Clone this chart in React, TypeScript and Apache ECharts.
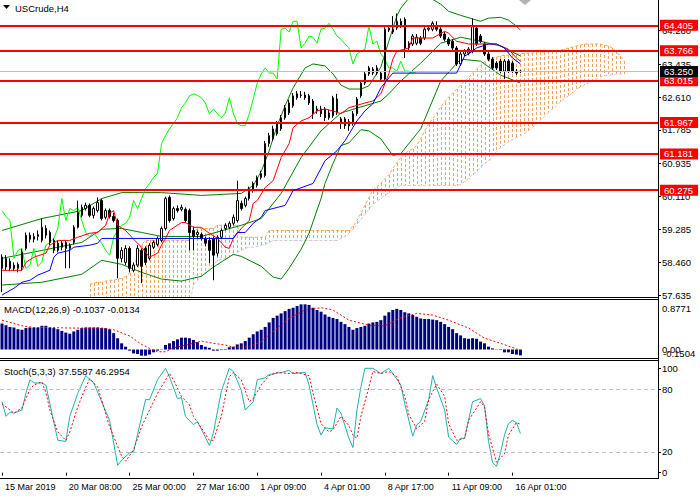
import React, { useEffect, useRef } from 'react';
import * as echarts from 'echarts';

const FONT = "'Liberation Sans', Arial, sans-serif";
const SLOTS = 165;

const openP = [
  58.59, 58.34, 58.49, 58.39, 58.31, 58.34, 58.81, 59.14, 59.04, 59.11,
  59.01, 59.31, 59.21, 59.01, 58.76, 58.94, 58.96, 58.81, 58.96, 59.34,
  59.64, 59.81, 59.89, 59.64, 59.76, 60.01, 59.59, 59.76, 59.61, 59.51,
  58.56, 58.46, 58.81, 58.26, 58.39, 58.76, 58.81, 58.56, 58.84, 58.91,
  59.01, 59.31, 60.09, 59.56, 59.81, 59.79, 59.79, 59.76, 59.26, 59.16,
  59.16, 59.06, 59.01, 59.06, 58.69, 59.09, 59.31, 59.34, 59.44, 59.51,
  59.94, 59.89, 60.06, 60.26, 60.39, 60.59, 60.64, 61.44, 61.56, 61.69,
  61.81, 62.09, 62.21, 62.39, 62.59, 62.66, 62.66, 62.64, 62.51, 62.26,
  62.31, 62.31, 62.09, 62.14, 62.56, 62.06, 62.06, 61.99, 61.94, 62.19,
  62.64, 62.96, 63.19, 63.31, 63.34, 63.21, 63.06, 64.29, 64.31, 64.34,
  64.39, 64.56, 63.84, 63.94, 63.96, 64.09, 64.09, 64.31, 64.31, 64.39,
  64.31, 64.19, 64.06, 64.01, 63.84, 63.44, 63.69, 63.71, 63.76, 64.34,
  64.14, 63.94, 63.69, 63.56, 63.46, 63.51, 63.26, 63.51, 63.46, 63.26,
  63.26,
];
const closeP = [
  58.31, 58.56, 58.31, 58.31, 58.41, 58.71, 59.14, 59.04, 59.11, 59.16,
  59.34, 59.14, 58.96, 58.76, 58.94, 58.84, 58.81, 58.89, 59.34, 59.71,
  59.84, 59.89, 59.64, 59.81, 59.96, 59.56, 59.76, 59.61, 59.51, 58.56,
  58.76, 58.81, 58.31, 58.39, 58.81, 58.36, 58.46, 58.89, 58.96, 59.06,
  59.31, 60.06, 59.51, 59.81, 59.76, 59.84, 59.51, 59.21, 59.11, 59.21,
  59.06, 58.94, 58.76, 58.64, 59.09, 59.26, 59.39, 59.44, 59.59, 60.01,
  59.81, 60.06, 60.31, 60.44, 60.59, 60.69, 61.44, 61.64, 61.81, 61.94,
  62.09, 62.34, 62.46, 62.64, 62.69, 62.65, 62.59, 62.46, 62.19, 62.31,
  62.19, 62.09, 62.21, 62.59, 62.21, 61.94, 61.89, 61.89, 62.19, 62.56,
  62.96, 63.19, 63.34, 63.21, 63.21, 63.06, 64.31, 64.34, 64.24, 64.51,
  64.51, 63.84, 63.96, 64.14, 64.11, 63.96, 64.31, 64.34, 64.46, 64.31,
  64.14, 64.06, 63.94, 63.84, 63.44, 63.69, 63.76, 63.81, 64.39, 63.94,
  64.01, 63.69, 63.56, 63.34, 63.34, 63.26, 63.51, 63.26, 63.26, 63.21,
  63.25,
];
const lowP = [
  57.71, 58.26, 58.24, 58.24, 58.21, 58.26, 58.76, 58.96, 58.96, 59.01,
  58.96, 59.06, 58.89, 58.69, 58.71, 58.76, 58.31, 58.31, 58.91, 59.31,
  59.59, 59.76, 59.59, 59.56, 59.71, 59.51, 59.54, 59.56, 59.46, 58.06,
  58.46, 58.39, 58.21, 58.21, 58.34, 57.94, 58.39, 58.51, 58.79, 58.86,
  58.96, 59.26, 59.46, 59.51, 59.71, 59.74, 59.46, 58.76, 58.76, 59.06,
  59.01, 58.86, 58.44, 58.01, 58.61, 59.04, 59.26, 59.29, 59.39, 59.46,
  59.76, 59.84, 60.01, 60.21, 60.34, 60.54, 60.59, 61.36, 61.51, 61.64,
  61.76, 62.04, 62.16, 62.34, 62.54, 62.59, 62.54, 62.41, 62.06, 62.19,
  62.11, 62.01, 62.04, 62.09, 62.16, 61.81, 61.81, 61.76, 61.89, 62.14,
  62.59, 62.91, 63.14, 63.16, 63.16, 63.01, 63.01, 64.24, 64.19, 64.29,
  64.34, 63.59, 63.76, 63.89, 63.91, 63.91, 64.04, 64.26, 64.26, 64.26,
  64.09, 64.01, 63.89, 63.76, 63.39, 63.39, 63.64, 63.66, 63.71, 63.89,
  63.96, 63.64, 63.51, 63.29, 63.29, 63.21, 63.06, 63.21, 63.21, 63.16,
  63.21,
];
const highP = [
  58.66, 58.64, 58.56, 58.46, 58.46, 58.79, 59.21, 59.21, 59.19, 59.26,
  59.56, 59.39, 59.26, 59.06, 59.01, 59.01, 59.01, 58.94, 59.39, 60.01,
  59.91, 59.96, 59.94, 59.86, 60.09, 60.06, 59.81, 59.81, 59.71, 59.56,
  58.84, 58.89, 58.86, 58.46, 58.89, 58.81, 58.86, 58.94, 59.01, 59.11,
  59.36, 60.11, 60.14, 59.86, 59.89, 59.91, 59.84, 59.81, 59.36, 59.26,
  59.21, 59.11, 59.09, 59.11, 59.14, 59.31, 59.44, 59.49, 59.66, 60.51,
  60.01, 60.11, 60.36, 60.49, 60.64, 60.76, 61.51, 61.71, 61.89, 62.01,
  62.16, 62.41, 62.54, 62.71, 62.76, 62.76, 62.74, 62.69, 62.56, 62.39,
  62.39, 62.36, 62.29, 62.64, 62.69, 62.11, 62.11, 62.06, 62.26, 62.61,
  63.01, 63.24, 63.39, 63.36, 63.41, 63.26, 64.36, 64.39, 64.64, 64.71,
  64.58, 64.61, 64.01, 64.19, 64.19, 64.14, 64.36, 64.39, 64.51, 64.51,
  64.36, 64.24, 64.11, 64.06, 63.89, 63.74, 63.81, 63.86, 64.58, 64.39,
  64.19, 63.99, 63.74, 63.61, 63.51, 63.56, 63.56, 63.56, 63.51, 63.31,
  63.29,
];

const tenkan = [
  [0, 58.26], [5, 58.26], [6, 58.46], [8, 58.59], [11, 58.69], [12, 58.89], [14, 59.01], [17, 59.01],
  [19, 59.09], [22, 59.19], [24, 59.21], [26, 59.39], [27, 59.69], [28, 59.76], [29, 59.39], [31, 59.26],
  [33, 59.04], [35, 58.84], [37, 58.59], [39, 58.69], [40, 58.89], [41, 59.06], [42, 59.26], [45, 59.46],
  [46, 59.46], [48, 59.34], [50, 59.34], [51, 59.26], [52, 59.19], [54, 59.06], [56, 58.84], [57, 58.81],
  [58, 59.06], [60, 59.31], [62, 59.51], [63, 59.94], [64, 60.01], [66, 60.34], [68, 60.51], [70, 61.09],
  [72, 61.44], [73, 61.84], [75, 62.01], [77, 62.09], [79, 62.26], [81, 62.31], [83, 62.26], [85, 62.19],
  [87, 62.34], [91, 62.46], [93, 62.51], [95, 62.69], [97, 63.19], [98, 63.56], [99, 63.76], [102, 63.84],
  [103, 64.09], [108, 64.09], [111, 64.26], [112, 64.21], [114, 64.01], [117, 63.94], [124, 63.94],
  [127, 63.81], [129, 63.59], [130, 63.51],
];
const kijun = [
  [0, 57.64], [3, 57.81], [5, 57.96], [7, 58.01], [9, 58.14], [12, 58.26], [13, 58.59], [14, 58.69],
  [17, 58.76], [18, 58.84], [22, 58.89], [24, 58.94], [25, 59.06], [58, 59.06], [59, 59.21], [61, 59.21],
  [63, 59.44], [65, 59.59], [66, 59.76], [71, 59.89], [73, 60.26], [78, 60.44], [81, 61.01], [84, 61.26],
  [86, 61.51], [89, 62.01], [91, 62.26], [93, 62.44], [95, 62.84], [97, 63.09], [98, 63.21], [114, 63.21],
  [116, 63.64], [117, 63.69], [119, 63.84], [122, 63.94], [124, 63.94], [126, 63.84], [128, 63.59], [130, 63.44],
];
const bbUpper = [
  [0, 59.26], [10, 59.56], [20, 59.76], [25, 60.06], [30, 60.21], [40, 60.21], [50, 60.14], [60, 60.19],
  [63, 60.39], [65, 60.74], [67, 61.26], [69, 61.89], [71, 62.39], [73, 62.84], [76, 63.34], [78, 63.44],
  [81, 63.39], [83, 63.19], [85, 62.91], [87, 62.81], [90, 62.81], [92, 62.89], [95, 63.36], [97, 64.01],
  [99, 64.64], [100, 64.84], [102, 65.09], [105, 65.14], [108, 65.06], [110, 64.94], [112, 64.76],
  [115, 64.66], [120, 64.51], [122, 64.59], [125, 64.61], [127, 64.54], [129, 64.39], [130, 64.29],
];
const bbMiddle = [
  [0, 58.56], [10, 58.76], [20, 58.96], [25, 59.29], [30, 59.31], [35, 59.21], [40, 59.11], [50, 59.11],
  [60, 59.39], [65, 59.56], [70, 60.19], [75, 61.09], [80, 61.76], [85, 62.21], [90, 62.36], [95, 62.51],
  [97, 62.69], [100, 63.01], [105, 63.46], [110, 63.96], [115, 64.11], [120, 64.01], [125, 63.89], [130, 63.64],
];
const bbLower = [
  [0, 57.89], [10, 57.96], [20, 58.16], [25, 58.51], [30, 58.41], [35, 58.21], [40, 58.04], [45, 57.99],
  [50, 58.11], [53, 58.34], [58, 58.66], [60, 58.61], [65, 58.36], [68, 58.09], [70, 58.04], [72, 58.31],
  [75, 58.79], [77, 59.19], [80, 60.06], [81, 60.44], [83, 60.94], [85, 61.39], [87, 61.46], [90, 61.79],
  [92, 61.76], [95, 61.56], [98, 61.14], [100, 61.19], [105, 61.81], [110, 63.01], [115, 63.56], [120, 63.51],
  [125, 63.16], [130, 62.96],
];

const CLOUD_START = 22;
const senkouA = [
  57.91, 57.94, 57.96, 57.96, 57.99, 58.01, 58.01, 58.04, 58.06, 58.11, 58.19, 58.31, 58.64, 58.91,
  59.01, 59.01, 59.01, 59.01, 59.01, 59.01, 59.01, 59.01, 59.01, 59.01, 59.01, 59.01,
  59.21,
  59.31, 59.31, 59.31, 59.31, 59.31,
  59.39, 59.39, 59.39, 59.39, 59.39, 59.39,
  59.09, 59.09, 59.09, 59.09, 59.09, 59.09, 59.09,
  59.26, 59.26, 59.26, 59.26, 59.26, 59.26, 59.26, 59.26, 59.26, 59.26, 59.26,
  59.26, 59.26, 59.26, 59.26, 59.26, 59.26, 59.26, 59.26, 59.26, 59.26,
  59.36, 59.51, 59.69, 59.89, 60.09, 60.26, 60.36, 60.44, 60.56, 60.66, 60.81, 60.96,
  61.09, 61.19, 61.26, 61.31, 61.39, 61.56, 61.76, 61.94, 62.06, 62.21, 62.36, 62.49,
  62.61, 62.71, 62.81, 62.91, 63.01, 63.09, 63.21, 63.31, 63.41, 63.49, 63.56, 63.59,
  63.61, 63.64, 63.66, 63.66, 63.69, 63.69, 63.69, 63.71, 63.71, 63.71, 63.74, 63.74,
  63.74, 63.76, 63.76, 63.76, 63.79, 63.81, 63.84, 63.86, 63.89, 63.91, 63.94, 63.94,
  63.94, 63.94, 63.94, 63.91, 63.89, 63.84, 63.76, 63.64, 63.51,
];
const senkouB = [
  57.40, 57.40, 57.40, 57.40, 57.40, 57.40, 57.40, 57.40, 57.40, 57.40, 57.40, 57.40, 57.40,
  57.40, 57.40, 57.40, 57.40, 57.40, 57.40, 57.40, 57.40, 57.40, 57.40, 57.40, 57.40, 57.40,
  57.89, 58.01, 58.11, 58.21, 58.31, 58.41, 58.49, 58.54, 58.56, 58.59, 58.64, 58.71, 58.76,
  58.81, 58.84, 58.84, 58.86, 58.89, 58.91, 58.96,
  59.01, 59.01, 59.01, 59.01, 59.01, 59.01, 59.01, 59.01, 59.01, 59.01, 59.01, 59.01, 59.01,
  59.01, 59.01, 59.01, 59.01,
  59.06, 59.11, 59.19, 59.29, 59.41, 59.54, 59.66, 59.79, 59.89, 59.99, 60.06, 60.14, 60.21,
  60.29, 60.34,
  60.39, 60.39, 60.39, 60.39, 60.39, 60.39, 60.39, 60.39, 60.39, 60.39, 60.39, 60.39, 60.39,
  60.39, 60.39,
  60.41, 60.49, 60.56, 60.66, 60.74, 60.84, 60.94, 61.01, 61.11, 61.24, 61.34, 61.41, 61.49,
  61.54, 61.59, 61.64, 61.69, 61.76, 61.84, 61.94, 62.04, 62.11, 62.21, 62.31, 62.39, 62.49,
  62.56, 62.64, 62.71, 62.79, 62.86, 62.91, 62.96, 63.01, 63.06, 63.11, 63.14, 63.16, 63.16,
  63.19, 63.19, 63.19,
];

const macdHist = [
  0.46, 0.43, 0.40, 0.39, 0.36, 0.35, 0.38, 0.39, 0.39, 0.39,
  0.42, 0.42, 0.39, 0.38, 0.36, 0.33, 0.30, 0.28, 0.32, 0.35,
  0.38, 0.39, 0.39, 0.39, 0.39, 0.38, 0.38, 0.36, 0.29, 0.20,
  0.11, 0.05, -0.02, -0.07, -0.08, -0.11, -0.11, -0.09, -0.05, -0.02,
  -0.005, 0.08, 0.11, 0.15, 0.18, 0.21, 0.21, 0.20, 0.17, 0.13,
  0.08, 0.05, 0.03, -0.02, -0.02, -0.01, 0.01, 0.04, 0.05, 0.09,
  0.11, 0.15, 0.21, 0.27, 0.32, 0.35, 0.40, 0.48, 0.56, 0.60,
  0.64, 0.68, 0.72, 0.74, 0.77, 0.80, 0.80, 0.79, 0.74, 0.70,
  0.67, 0.62, 0.58, 0.56, 0.54, 0.49, 0.45, 0.40, 0.35, 0.38,
  0.40, 0.42, 0.46, 0.48, 0.49, 0.52, 0.60, 0.66, 0.70, 0.72,
  0.70, 0.66, 0.64, 0.61, 0.58, 0.55, 0.54, 0.54, 0.53, 0.52,
  0.49, 0.45, 0.40, 0.36, 0.29, 0.25, 0.20, 0.19, 0.20, 0.19,
  0.14, 0.11, 0.05, 0.02, 0.005, -0.01, -0.05, -0.05, -0.08, -0.09,
  -0.1037,
];
const macdSignal = [
  [0, 0.52], [5, 0.42], [8, 0.39], [12, 0.39], [17, 0.38], [21, 0.38], [25, 0.38], [28, 0.35],
  [32, 0.24], [35, 0.09], [37, 0.02], [39, -0.04], [41, -0.04], [43, 0.03], [47, 0.09], [50, 0.15],
  [53, 0.11], [56, 0.08], [58, 0.04], [62, 0.05], [65, 0.14], [68, 0.32], [72, 0.55], [76, 0.70],
  [80, 0.74], [83, 0.70], [87, 0.52], [92, 0.43], [96, 0.42], [100, 0.56], [104, 0.64], [108, 0.61],
  [112, 0.52], [117, 0.38], [121, 0.20], [125, 0.11], [129, 0.01], [130, -0.0134],
];
const stochK = [
  [0, 68], [1, 54], [2, 58], [3, 57], [5, 60], [6, 76], [7, 89], [8, 86], [10, 86], [11, 84], [12, 66],
  [14, 31], [16, 30], [17, 54], [19, 76], [21, 93], [23, 86], [27, 50], [29, 7], [30, 12], [32, 19],
  [33, 20], [36, 70], [37, 70], [39, 89], [41, 100], [42, 92], [44, 71], [45, 72], [46, 54], [48, 46],
  [49, 49], [51, 34], [52, 26], [53, 38], [55, 78], [57, 100], [58, 97], [60, 79], [61, 60], [63, 68],
  [64, 89], [66, 91], [67, 94], [70, 96], [72, 98], [73, 95], [76, 96], [77, 84], [79, 46], [80, 36],
  [81, 43], [83, 42], [84, 62], [85, 57], [87, 33], [88, 24], [89, 60], [90, 82], [91, 100], [93, 100],
  [95, 95], [97, 100], [98, 95], [100, 84], [101, 66], [103, 35], [104, 46], [105, 49], [107, 70],
  [108, 93], [109, 81], [111, 60], [112, 34], [114, 27], [115, 33], [116, 33], [118, 68], [120, 71],
  [121, 64], [122, 30], [123, 10], [124, 6], [125, 19], [126, 36], [127, 47], [128, 50], [129, 48],
  [130, 37.56],
];
const stochD = [
  [0, 66], [2, 60], [3, 57], [5, 62], [7, 80], [8, 84], [10, 87], [11, 77], [12, 60], [14, 39], [16, 31],
  [17, 39], [19, 63], [21, 82], [22, 90], [24, 82], [27, 44], [30, 16], [31, 11], [33, 22], [35, 44],
  [37, 60], [39, 76], [42, 95], [43, 89], [45, 73], [47, 65], [48, 54], [50, 43], [52, 31], [53, 31],
  [55, 54], [57, 92], [58, 96], [60, 89], [62, 68], [63, 71], [65, 84], [67, 93], [69, 96], [72, 95],
  [74, 96], [77, 93], [78, 76], [80, 47], [82, 39], [83, 41], [85, 54], [87, 45], [88, 36], [89, 33],
  [90, 54], [92, 82], [93, 97], [95, 95], [97, 97], [99, 92], [101, 73], [102, 56], [104, 42], [106, 49],
  [107, 70], [109, 85], [111, 73], [112, 47], [114, 31], [116, 33], [117, 50], [120, 68], [121, 63],
  [122, 37], [124, 10], [126, 18], [127, 36], [129, 48], [130, 46.3],
];

const levels = [64.405, 63.766, 63.015, 61.967, 61.181, 60.275];
const lastPrice = 63.25;
const priceTicks = [57.635, 58.46, 59.285, 60.11, 60.935, 61.785, 62.61, 63.435, 64.28];
const macdTicks = [0, 0.8771];
const stochTicks = [0, 20, 80, 100];
const dateLabels: Record<number, string> = {
  0: '15 Mar 2019', 16: '20 Mar 08:00', 32: '25 Mar 00:00', 48: '27 Mar 16:00', 64: '1 Apr 09:00',
  80: '4 Apr 01:00', 96: '8 Apr 17:00', 112: '11 Apr 09:00', 128: '16 Apr 01:00',
};

const CLOUD_COLOR = '#f4a460';

export default function App() {
  const ref = useRef<HTMLDivElement>(null);
  useEffect(() => {
    const chart = echarts.init(ref.current as HTMLDivElement, null, { renderer: 'svg' });
    const cats = Array.from({ length: SLOTS }, (_, i) => String(i));
    const candles = openP.map((o, i) => [o, closeP[i], lowP[i], highP[i]]);
    const chikou = closeP.slice(26).map((v, i) => [i, v]);
    const cloud = senkouA.map((a, i) => [CLOUD_START + i, a, senkouB[i]]);
    const spanA = senkouA.map((a, i) => [CLOUD_START + i, a]);
    const spanB = senkouB.map((b, i) => [CLOUD_START + i, b]);
    const txt = { fontFamily: FONT, fontSize: 9.5, color: '#000' };
    const mkLine = (data: any, color: string, xi: number, width = 1, type: any = 'solid', z = 3) => ({
      type: 'line', data, xAxisIndex: xi, yAxisIndex: xi, symbol: 'none', showSymbol: false,
      silent: true, lineStyle: { color, width, type }, itemStyle: { color }, z,
    });
    const lvlLabel = (bg: string) => ({
      show: true, position: 'end', distance: 2, backgroundColor: bg, color: '#fff',
      padding: [1, 5, 0, 4], fontFamily: FONT, fontSize: 9.5,
    });
    const hLine = (x1: number, y: number, x2: number) => ({
      type: 'line', shape: { x1, y1: y, x2, y2: y }, style: { stroke: '#000', lineWidth: 1 }, z: 100, silent: true,
    });
    const isLbl = (i: number) => dateLabels[i] !== undefined;

    chart.setOption({
      animation: false,
      backgroundColor: '#fff',
      grid: [
        { left: -2, top: 0, width: 660, height: 297 },
        { left: -2, top: 300, width: 660, height: 58 },
        { left: -2, top: 361, width: 660, height: 117 },
      ],
      xAxis: [0, 1, 2].map((g) => ({
        type: 'category', gridIndex: g, data: cats, boundaryGap: true,
        axisLine: { show: false },
        axisPointer: { show: false },
        axisTick: g === 2
          ? { show: true, alignWithLabel: true, interval: (i: number) => isLbl(i), length: 3, lineStyle: { color: '#000' } }
          : { show: false },
        axisLabel: g === 2
          ? {
            show: true, interval: (i: number) => isLbl(i), formatter: (_v: string, i: number) => dateLabels[i] || '',
            align: 'left', padding: [0, 0, 0, 3], margin: 4, fontFamily: FONT, fontSize: 9, color: '#000',
          }
          : { show: false },
        splitLine: { show: false },
        splitArea: { show: false },
      })),
      yAxis: [
        {
          type: 'value', gridIndex: 0, position: 'right', min: 57.59, max: 65.045,
          axisLine: { show: false }, splitLine: { show: false },
          axisTick: { show: true, customValues: priceTicks, length: 3, lineStyle: { color: '#000' } },
          axisLabel: { customValues: priceTicks, formatter: (v: number) => v.toFixed(3), margin: 4, ...txt },
        },
        {
          type: 'value', gridIndex: 1, position: 'right', min: -0.1504, max: 0.8771,
          axisLine: { show: false }, splitLine: { show: false },
          axisTick: { show: false },
          axisLabel: {
            customValues: macdTicks, margin: 4, showMinLabel: true, showMaxLabel: true, hideOverlap: false, ...txt,
            formatter: (v: number) => (v > 0.5 ? '{t|0.8771}' : '0.00'),
            rich: {
              t: { padding: [16, 0, 0, 0], fontFamily: FONT, fontSize: 9.5, color: '#000' },
            },
          },
        },
        {
          type: 'value', gridIndex: 2, position: 'right', min: -5.1, max: 107,
          axisLine: { show: false }, splitLine: { show: false },
          axisTick: { show: true, customValues: stochTicks, length: 3, lineStyle: { color: '#000' } },
          axisLabel: { customValues: stochTicks, formatter: (v: number) => String(v), margin: 4, ...txt },
        },
      ],
      series: [
        {
          type: 'custom', xAxisIndex: 0, yAxisIndex: 0, data: cloud, silent: true, z: 1,
          color: CLOUD_COLOR, itemStyle: { color: CLOUD_COLOR, opacity: 1 },
          encode: { x: 0, y: [1, 2] },
          renderItem: (params: any, api: any) => {
            const x = api.value(0);
            const p1 = api.coord([x, api.value(1)]);
            const p2 = api.coord([x, api.value(2)]);
            const cs = params.coordSys;
            const top = cs.y;
            const bot = cs.y + cs.height;
            const ya = Math.max(top, Math.min(bot, Math.min(p1[1], p2[1])));
            const yb = Math.max(top, Math.min(bot, Math.max(p1[1], p2[1])));
            const xx = Math.round(p1[0]);
            const children: any[] = [];
            for (let y = Math.round(ya); y < yb; y += 5) {
              children.push({
                type: 'rect', shape: { x: xx, y, width: 1, height: Math.min(3, yb - y) },
                style: { fill: CLOUD_COLOR, opacity: 1 },
              });
            }
            return { type: 'group', children };
          },
        },
        mkLine(spanA, CLOUD_COLOR, 0, 1, [3, 2], 2),
        mkLine(spanB, '#d8bfd8', 0, 1, [3, 2], 2),
        mkLine(bbUpper, '#008000', 0),
        mkLine(bbMiddle, '#008000', 0),
        mkLine(bbLower, '#008000', 0),
        mkLine(chikou, '#00ff00', 0),
        {
          type: 'candlestick', xAxisIndex: 0, yAxisIndex: 0, data: candles, barWidth: 2, silent: true, z: 4,
          itemStyle: { color: '#fff', color0: '#000', borderColor: '#000', borderColor0: '#000', borderWidth: 1 },
          markLine: {
            symbol: ['none', 'none'], silent: true, animation: false,
            data: [
              ...levels.map((v) => ({
                yAxis: v, lineStyle: { color: '#ff0000', width: 2, type: 'solid' },
                label: { ...lvlLabel('#ff0000'), formatter: v.toFixed(3) },
              })),
              {
                yAxis: lastPrice, lineStyle: { color: '#c0c0c0', width: 1, type: 'solid' },
                label: { ...lvlLabel('#000'), formatter: lastPrice.toFixed(3) },
              },
            ],
          },
        },
        mkLine(tenkan, '#ff0000', 0, 1, 'solid', 5),
        mkLine(kijun, '#0000ff', 0, 1, 'solid', 5),
        {
          type: 'bar', xAxisIndex: 1, yAxisIndex: 1, data: macdHist, barWidth: 3, silent: true,
          itemStyle: { color: '#000080' },
        },
        mkLine(macdSignal, '#ff0000', 1, 1, [2, 2]),
        {
          ...mkLine(stochK, '#20b2aa', 2),
          markLine: {
            symbol: ['none', 'none'], silent: true, animation: false, label: { show: false },
            data: [{ yAxis: 20 }, { yAxis: 80 }],
            lineStyle: { color: '#c0c0c0', width: 1, type: [4, 3] },
          },
        },
        mkLine(stochD, '#ff0000', 2, 1, [2, 2]),
      ],
      graphic: [
        { type: 'polygon', shape: { points: [[3, 5], [10, 5], [6.5, 9]] }, style: { fill: '#000' }, z: 100 },
        { type: 'text', x: 15, y: 8, style: { text: 'USCrude,H4', fill: '#000', fontFamily: FONT, fontSize: 9.5, verticalAlign: 'middle' }, z: 100 },
        { type: 'text', x: 4, y: 309.5, style: { text: 'MACD(12,26,9) -0.1037 -0.0134', fill: '#000', fontFamily: FONT, fontSize: 9.5, verticalAlign: 'middle' }, z: 100 },
        { type: 'text', x: 4, y: 371, style: { text: 'Stoch(5,3,3) 37.5587 46.2954', fill: '#000', fontFamily: FONT, fontSize: 9.5, verticalAlign: 'middle' }, z: 100 },
        { type: 'text', x: 663, y: 353, style: { text: '-0.1504', fill: '#000', fontFamily: FONT, fontSize: 9.5, verticalAlign: 'middle' }, z: 100 },
        { type: 'polygon', shape: { points: [[519, 0], [531, 0], [525, 5]] }, style: { fill: '#b4b4b4' }, z: 100 },
        hLine(0, 297.5, 659),
        hLine(0, 299.5, 659),
        hLine(0, 358.5, 659),
        hLine(0, 360.5, 659),
        hLine(0, 478.5, 659),
        { type: 'line', shape: { x1: 658.5, y1: 0, x2: 658.5, y2: 479 }, style: { stroke: '#000', lineWidth: 1 }, z: 100, silent: true },
      ],
    });
    return () => chart.dispose();
  }, []);
  return <div ref={ref} style={{ position: 'absolute', left: 0, top: 0, width: 700, height: 500, background: '#fff' }} />;
}
